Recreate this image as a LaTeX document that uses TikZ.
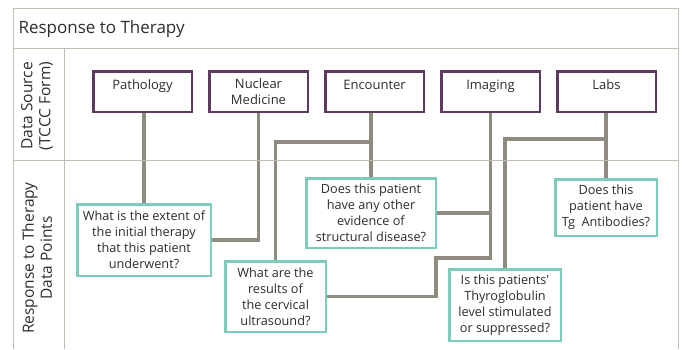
\documentclass[tikz,border=0pt]{standalone}
\usepackage{fontspec}
\setmainfont{Open Sans}
\usepackage{xcolor}
\usepackage{tikz}
\usetikzlibrary{positioning,backgrounds}
\definecolor{plum}{RGB}{94, 59, 94}
\definecolor{teal}{RGB}{126, 202, 189}
\definecolor{stone}{RGB}{143, 139, 127}
\definecolor{frameline}{RGB}{194, 189, 174}
\definecolor{ink}{RGB}{45, 45, 45}
\tikzstyle{srcbox} = [rectangle, draw=plum, line width=2.5pt, fill=white, text=ink, align=center, font=\fontsize{13}{16}\selectfont, minimum width=98.5pt, minimum height=40.5pt, inner ysep=0pt]
\tikzstyle{onerow} = [text height=18pt, text depth=22.5pt]
\tikzstyle{qbox} = [rectangle, draw=teal, line width=2.5pt, fill=white, text=ink, align=center, font=\fontsize{12.7}{16}\selectfont, inner sep=1pt]
\tikzstyle{rowlbl} = [draw=none, fill=none, text=ink, align=center, font=\fontsize{15.5}{18}\selectfont, rotate=90]
\tikzstyle{frame} = [draw=frameline, line width=0.8pt]
\tikzstyle{link} = [draw=stone, line width=3.5pt, line join=miter]

\begin{document}
\begin{tikzpicture}[x=1pt, y=1pt]
\useasboundingbox (0,0) rectangle (682,-349);

% table frame =============================
\draw[frame] (13,-349) -- (13,-8) -- (678,-8) -- (678,-349);
\draw[frame] (13,-48) -- (678,-48);
\draw[frame] (13,-160) -- (678,-160);
\draw[frame] (64,-48) -- (64,-349);
\node[anchor=west, text=ink, font=\fontsize{17}{18}\selectfont] (ttl) at (15,-29) {Response to Therapy};
\node[rowlbl] (srclbl) at (37,-106) {Data Source\\(TCCC Form)};
\node[rowlbl] (rsplbl) at (37,-258) {Response to Therapy\\Data Points};

% data sources =============================
\node[srcbox, onerow] (patho) at (142.5,-91.5) {Pathology};
\node[srcbox, right=15pt of patho] (nucl) {Nuclear\\Medicine};
\node[srcbox, onerow, right=15pt of nucl] (enc) {Encounter};
\node[srcbox, onerow, right=15pt of enc] (img) {Imaging};
\node[srcbox, onerow, right=15pt of img] (labs) {Labs};

% data points =============================
\node[qbox, minimum width=133.5pt, minimum height=71.5pt] (q1) at (144,-240) {What is the extent of\\the initial therapy\\that this patient\\underwent?};
\node[qbox, minimum width=100.5pt, minimum height=70.5pt] (q2) at (275.5,-296.5) {What are the\\results of\\the cervical\\ultrasound?};
\node[qbox, minimum width=129.5pt, minimum height=69.5pt] (q3) at (371,-213) {Does this patient\\have any other\\evidence of\\structural disease?};
\node[qbox, minimum width=111.5pt, minimum height=71.5pt] (q4) at (505,-305) {Is this patients\textquotesingle\\Thyroglobulin\\level stimulated\\or suppressed?};
\node[qbox, minimum width=101.5pt, minimum height=56.5pt] (q5) at (606,-207.5) {Does this\\patient have\\Tg~~Antibodies?};

% junctions
\coordinate (encj) at (371,-142);
\coordinate (imgk) at (436,-258);
\coordinate (labj) at (606,-139);

% links
\begin{scope}[on background layer]
\path[link] (patho.south -| q1.north) -- (q1.north);
\path[link] (nucl.south) |- (q1.east);
\path[link] (enc.south -| q3.north) -- (q3.north);
\path[link] (encj) -| (q2.north);
\path[link] (img.south) |- (imgk) |- (q2.east);
\path[link] (q3.east) -- (q3.east -| img.south);
\path[link] (labs.south -| q5.north) -- (q5.north);
\path[link] (labj) -| (q4.north);
\end{scope}

\end{tikzpicture}
\end{document}
